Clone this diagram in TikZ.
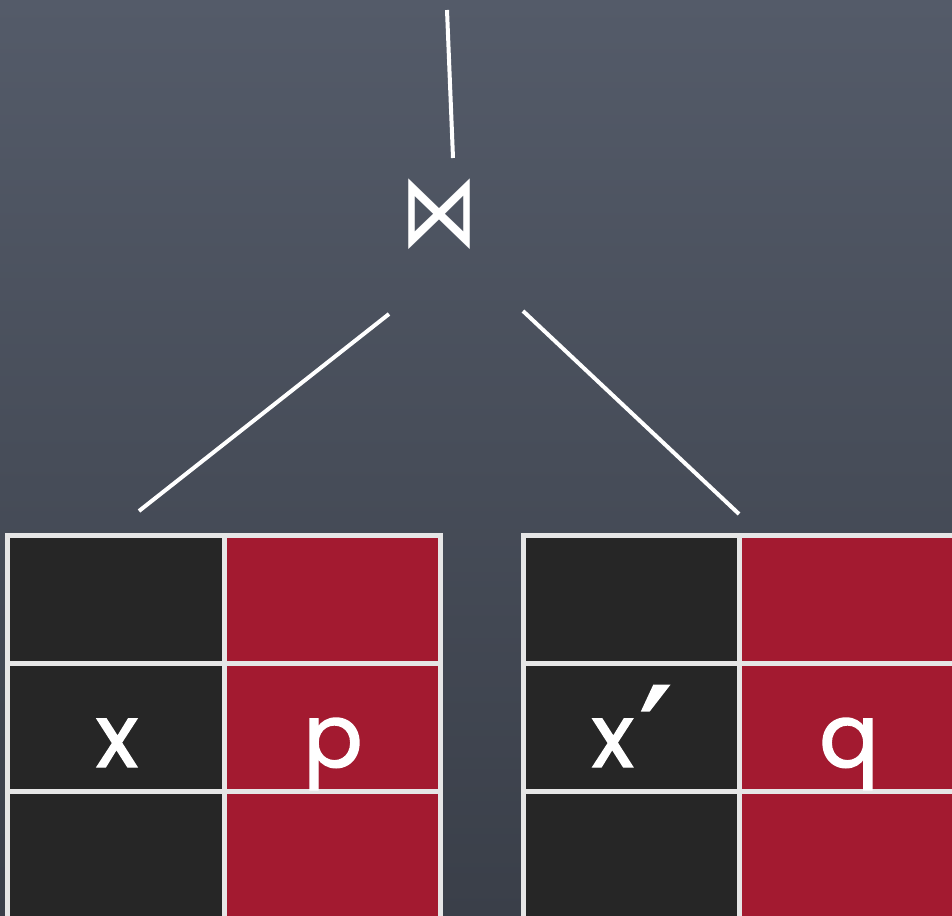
\documentclass[tikz,border=0pt]{standalone}
\usepackage{fontspec}
\setmainfont{Poppins}
\newfontfamily\cellfont{Poppins}[BoldFont=Poppins, BoldFeatures={FakeBold=1.6}]
\newfontfamily\symfont{DejaVu Sans}
\newfontfamily\primefont{DejaVu Sans}[BoldFont=DejaVu Sans, BoldFeatures={FakeBold=2.5}]
\definecolor{slatetop}{HTML}{545B69}
\definecolor{slatebot}{HTML}{3A3F49}
\definecolor{gridc}{HTML}{E6E6E6}
\definecolor{darkcell}{HTML}{262626}
\definecolor{redcell}{HTML}{A31A30}
\tikzset{
  cellbox/.style={rectangle, minimum width=216.5pt, minimum height=128pt, inner sep=0pt, line width=5pt, draw=gridc},
  darkbox/.style={cellbox, fill=darkcell},
  redbox/.style={cellbox, fill=redcell},
  celltext/.style={anchor=base, text=white, inner sep=0pt, font=\cellfont\bfseries\fontsize{88}{100}\selectfont},
  chalk/.style={draw=white, line width=4pt}
}
\begin{document}
\begin{tikzpicture}[x=1pt,y=-1pt]
\useasboundingbox (0,0) rectangle (952,915);
\clip (0,0) rectangle (952,915);
\shade[top color=slatetop, bottom color=slatebot] (0,0) rectangle (952,915);

% join operator
\node[text=white, inner sep=0pt, xscale=0.78, yscale=1.03, font=\symfont\fontsize{100}{110}\selectfont] (join) at (439,214) {⋈};

% connectors
\coordinate (t1) at (447,10);
\coordinate (t2) at (453,158);
\coordinate (l1) at (389,314);
\coordinate (l2) at (139,511);
\coordinate (r1) at (523,311);
\coordinate (r2) at (739,514);
\draw[chalk] (t1) -- (t2);
\draw[chalk] (l1) -- (l2);
\draw[chalk] (r1) -- (r2);

% left table
\node[darkbox] (La1) at (115.75,599) {};
\node[redbox]  (Lb1) at (332.25,599) {};
\node[darkbox] (La2) at (115.75,727) {};
\node[redbox]  (Lb2) at (332.25,727) {};
\node[darkbox] (La3) at (115.75,855) {};
\node[redbox]  (Lb3) at (332.25,855) {};
% right table
\node[darkbox] (Ra1) at (631.25,599) {};
\node[redbox]  (Rb1) at (847.75,599) {};
\node[darkbox] (Ra2) at (631.25,727) {};
\node[redbox]  (Rb2) at (847.75,727) {};
\node[darkbox] (Ra3) at (631.25,855) {};
\node[redbox]  (Rb3) at (847.75,855) {};

% texts
\node[celltext] (tx) at (117,767) {x};
\node[celltext] (tp) at (333,767) {p};
\node[celltext] (txp) at (631,767) {x\kern7pt\raisebox{-14pt}{\primefont\bfseries\fontsize{130}{140}\selectfont ′}};
\node[celltext] (tq) at (849,767) {q};
\end{tikzpicture}
\end{document}
